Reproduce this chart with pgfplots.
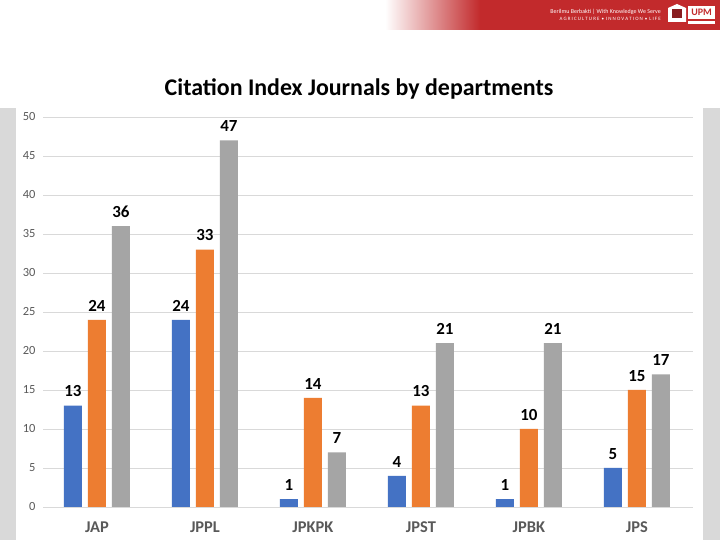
\documentclass[border=0pt]{standalone}
\usepackage{pgfplots}
\pgfplotsset{compat=1.18}
\usepackage{fontspec}
\setmainfont{Carlito}
\definecolor{sblue}{HTML}{4472C4}
\definecolor{sorange}{HTML}{ED7D31}
\definecolor{sgray}{HTML}{A5A5A5}
\definecolor{gridgray}{HTML}{D9D9D9}
\definecolor{tickgray}{HTML}{595959}
\definecolor{sidegray}{HTML}{D9D9D9}
\definecolor{upmred}{HTML}{C22A2C}
\begin{document}
\begin{tikzpicture}[x=1bp,y=1bp]
\path[use as bounding box, fill=white] (0,0) rectangle (720,540);
% side panels
\fill[sidegray] (0,0) rectangle (16,432);
\fill[sidegray] (703,0) rectangle (720,432);
% banner
\shade[left color=white, right color=upmred] (385,510) rectangle (480,540);
\fill[upmred] (480,510) rectangle (720,540);
\node[text=white, font=\fontsize{6}{7}\selectfont, anchor=east, inner sep=0] at (661,528) {Berilmu Berbakti | With Knowledge We Serve};
\node[text=white, font=\fontsize{5}{6}\selectfont, anchor=east, inner sep=0] at (661,521) {A G R I C U L T U R E \,•\, I N N O V A T I O N \,•\, L I F E};
\fill[white] (668,518) -- (686,518) -- (686,532) -- (677,536) -- (668,532) -- cycle;
\fill[upmred!70!black] (672,522) rectangle (682,531);
\fill[white] (688,521) rectangle (715,534);
\node[text=upmred, font=\fontsize{10}{11}\bfseries, inner sep=0] at (701.5,527.5) {UPM};
\fill[white] (688,516) rectangle (715,519);
% title
\node[font=\fontsize{24}{28}\selectfont\bfseries, text=black] at (359,451) {Citation Index Journals by departments};
\begin{axis}[
  at={(43bp,33bp)}, anchor=south west,
  scale only axis, width=650bp, height=390bp,
  xmin=-0.5, xmax=5.52, ymin=0, ymax=50,
  ytick={0,5,...,50},
  xtick={0,1,2,3,4,5},
  xticklabels={JAP,JPPL,JPKPK,JPST,JPBK,JPS},
  ymajorgrids, grid style={gridgray, line width=0.75pt},
  axis line style={draw=none},
  major tick length=0pt,
  /pgf/number format/assume math mode=true,
  yticklabel style={font=\fontsize{12.5}{14}\selectfont, text=tickgray, xshift=-4bp},
  xticklabel style={font=\fontsize{16.5}{18}\selectfont\bfseries, text=tickgray, anchor=base, yshift=-26bp},
  ybar, bar width=18bp,
  nodes near coords,
  every node near coord/.append style={font=\fontsize{17}{20}\selectfont\bfseries, text=black, yshift=5bp},
  clip=false,
]
\addplot[fill=sblue, draw=none, bar shift=-24bp] coordinates {(0,13) (1,24) (2,1) (3,4) (4,1) (5,5)};
\addplot[fill=sorange, draw=none, bar shift=0bp] coordinates {(0,24) (1,33) (2,14) (3,13) (4,10) (5,15)};
\addplot[fill=sgray, draw=none, bar shift=24bp] coordinates {(0,36) (1,47) (2,7) (3,21) (4,21) (5,17)};
\end{axis}
\end{tikzpicture}
\end{document}
